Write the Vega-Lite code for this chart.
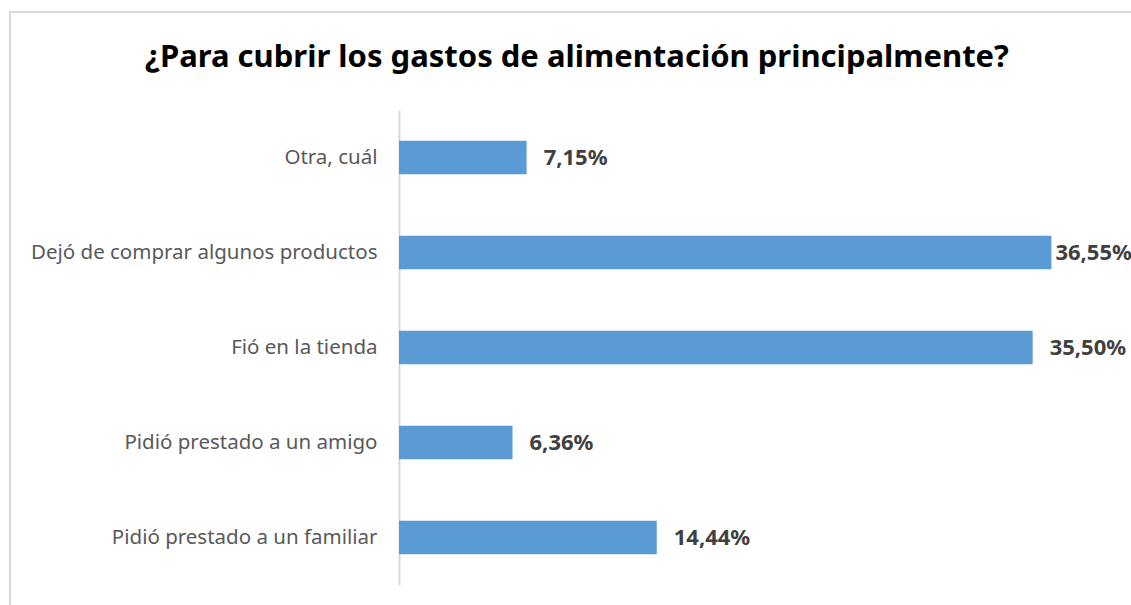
{
  "$schema": "https://vega.github.io/schema/vega-lite/v6.json",
  "width": 1124,
  "height": 596,
  "autosize": {"type": "none"},
  "padding": {"left": 10, "top": 12, "right": -3, "bottom": -3},
  "background": "white",
  "title": {
    "text": "¿Para cubrir los gastos de alimentación principalmente?",
    "font": "Noto Sans",
    "fontSize": 31,
    "fontWeight": "bold",
    "color": "#000000",
    "anchor": "middle",
    "frame": "group",
    "baseline": "alphabetic",
    "offset": -86,
    "dx": 5
  },
  "data": {
    "values": [
      {"categoria": "Otra, cuál", "valor": 0.0715},
      {"categoria": "Dejó de comprar algunos productos", "valor": 0.3655},
      {"categoria": "Fió en la tienda", "valor": 0.3550},
      {"categoria": "Pidió prestado a un amigo", "valor": 0.0636},
      {"categoria": "Pidió prestado a un familiar", "valor": 0.1444}
    ]
  },
  "encoding": {
    "y": {
      "field": "categoria",
      "type": "nominal",
      "sort": null,
      "scale": {"range": [98, 573], "paddingInner": 0.647, "paddingOuter": 0.3235},
      "axis": {
        "title": null,
        "offset": -389,
        "ticks": false,
        "domainColor": "#d9d9d9",
        "domainWidth": 2,
        "labelFont": "Noto Sans",
        "labelFontSize": 20.5,
        "labelColor": "#595959",
        "labelPadding": 22,
        "labelLimit": 500
      }
    },
    "x": {
      "field": "valor",
      "type": "quantitative",
      "scale": {"domain": [0, 0.4], "range": [389, 1103]},
      "axis": null
    }
  },
  "layer": [
    {"mark": {"type": "bar", "color": "#5b9bd5"}},
    {
      "mark": {
        "type": "text",
        "align": "left",
        "baseline": "middle",
        "dx": {"expr": "datum.valor > 0.36 ? 4 : 17"},
        "font": "Noto Sans",
        "fontSize": 22,
        "fontWeight": "bold",
        "color": "#404040"
      },
      "encoding": {"text": {"field": "valor", "type": "quantitative", "format": ".2%"}}
    }
  ],
  "config": {
    "locale": {"number": {"decimal": ",", "thousands": ".", "grouping": [3], "currency": ["", " €"]}},
    "view": {"stroke": "#d9d9d9", "strokeWidth": 2}
  }
}
